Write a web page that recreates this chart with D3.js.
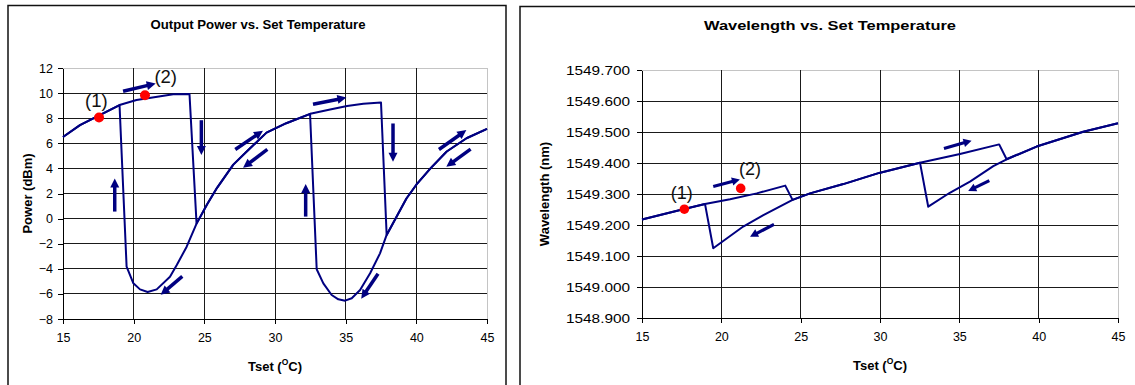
<!DOCTYPE html>
<html>
<head>
<meta charset="utf-8">
<script src="https://cdn.jsdelivr.net/npm/d3@7"></script>
<style>
  html, body { margin: 0; padding: 0; background: #fff; }
  svg { display: block; font-family: "Liberation Sans", Arial, sans-serif; }
</style>
</head>
<body>
<svg id="chart" width="1135" height="385"></svg>
<script>
// ---------- data ----------
const tempTicks = [15, 20, 25, 30, 35, 40, 45];
const powerTicks = [-8, -6, -4, -2, 0, 2, 4, 6, 8, 10, 12];
const wavelengthTicks = [1548.9, 1549.0, 1549.1, 1549.2, 1549.3, 1549.4, 1549.5, 1549.6, 1549.7];

// Output power, temperature swept upward (°C, dBm)
const powerHeatTemp  = [15, 16.2, 17.6, 19.0, 20.2, 21.9, 22.8, 23.95, 24.45, 25.2, 25.9, 27.05, 28.0, 29.4, 30.8, 32.5, 33.9, 35.1, 36.25, 37.5, 37.9, 38.6, 39.3, 40.0, 41.0, 42.15, 43.55, 45];
const powerHeatValue = [6.5, 7.45, 8.25, 9.05, 9.45, 9.75, 9.9, 9.93, -0.4, 1.15, 2.45, 4.3, 5.35, 6.85, 7.6, 8.35, 8.7, 8.97, 9.15, 9.25, -1.3, 0.15, 1.6, 2.7, 4.0, 5.35, 6.4, 7.15];

// Output power, temperature swept downward
const powerCoolTemp  = [45, 43.55, 42.15, 41.0, 40.0, 39.3, 38.6, 37.9, 37.43, 36.73, 36.02, 35.43, 34.96, 34.48, 34.01, 33.42, 32.95, 32.48, 30.8, 29.4, 28.0, 27.05, 25.9, 25.2, 24.45, 23.75, 23.05, 22.57, 21.63, 20.99, 20.45, 19.98, 19.5, 19.0, 17.6, 16.2, 15];
const powerCoolValue = [7.15, 6.4, 5.35, 4.0, 2.7, 1.6, 0.15, -1.3, -2.77, -4.36, -5.69, -6.35, -6.54, -6.43, -6.09, -5.16, -4.04, 8.35, 7.6, 6.85, 5.35, 4.3, 2.45, 1.15, -0.4, -2.24, -3.7, -4.63, -5.64, -5.85, -5.64, -5.16, -3.83, 9.05, 8.25, 7.45, 6.5];

// Wavelength, temperature swept upward (°C, nm)
const waveHeatTemp  = [15, 17.6, 18.97, 20.55, 22.23, 24.03, 24.49, 25.59, 27.69, 29.95, 32.52, 35.04, 37.51, 37.98, 39.87, 42.81, 45];
const waveHeatValue = [1549.218, 1549.251, 1549.268, 1549.283, 1549.302, 1549.327, 1549.281, 1549.302, 1549.332, 1549.368, 1549.401, 1549.429, 1549.460, 1549.412, 1549.453, 1549.501, 1549.528];

// Wavelength, temperature swept downward
const waveCoolTemp  = [45, 42.81, 39.87, 37.98, 37.14, 35.67, 34.4, 33.04, 32.52, 29.95, 27.69, 25.59, 24.49, 22.65, 21.38, 19.49, 18.97, 17.6, 15];
const waveCoolValue = [1549.528, 1549.501, 1549.453, 1549.412, 1549.390, 1549.340, 1549.304, 1549.259, 1549.401, 1549.368, 1549.332, 1549.302, 1549.281, 1549.232, 1549.195, 1549.125, 1549.268, 1549.251, 1549.218];

// Sweep-direction arrows: [fromTemp, fromValue, toTemp, toValue]
const powerArrows = [
  [19.25, 10.15, 21.56, 10.76],
  [18.66, 0.56, 18.66, 3.2],
  [24.79, 7.84, 24.79, 5.06],
  [27.19, 5.51, 29.15, 7.0],
  [29.46, 5.51, 27.74, 4.05],
  [23.44, -4.61, 21.91, -6.07],
  [32.69, 9.11, 35.05, 9.64],
  [32.17, 0.16, 32.17, 2.76],
  [38.35, 7.58, 38.35, 4.53],
  [37.29, -4.4, 36.1, -6.38],
  [41.6, 5.51, 43.54, 7.05],
  [43.84, 5.54, 42.12, 4.13]
];
const waveArrows = [
  [19.49, 1549.324, 21.17, 1549.347],
  [23.32, 1549.202, 21.81, 1549.162],
  [34.03, 1549.447, 35.77, 1549.472],
  [36.89, 1549.343, 35.56, 1549.310]
];

// Operating points (1) and (2)
const pointLabels = ["(1)", "(2)"];
const powerPointTemp = [17.55, 20.8];
const powerPointValue = [8.05, 9.83];
const powerLabelTemp = [17.36, 22.27];
const powerLabelValue = [9.4, 11.36];
const wavePointTemp = [17.67, 21.22];
const wavePointValue = [1549.251, 1549.318];
const waveLabelTemp = [17.5, 21.8];
const waveLabelValue = [1549.304, 1549.380];

// ---------- drawing ----------
const svg = d3.select("#chart");
const NAVY = "#000080";

function drawArrow(g, x0, y0, x1, y1, st) {
  const dx = x1 - x0, dy = y1 - y0, len = Math.hypot(dx, dy);
  const ux = dx / len, uy = dy / len;
  const bx = x1 - ux * st.head, by = y1 - uy * st.head;
  g.append("line")
    .attr("x1", x0).attr("y1", y0)
    .attr("x2", bx + ux).attr("y2", by + uy)
    .attr("stroke", NAVY).attr("stroke-width", st.shaft);
  g.append("path")
    .attr("d", `M${x1},${y1}L${bx - uy * st.half},${by + ux * st.half}L${bx + uy * st.half},${by - ux * st.half}Z`)
    .attr("fill", NAVY);
}

function drawPanel(p) {
  const g = svg.append("g");

  // chart frame
  g.append("rect")
    .attr("x", p.frame.x).attr("y", p.frame.y)
    .attr("width", p.frame.w).attr("height", p.frame.h)
    .attr("fill", "#fff").attr("stroke", "#111").attr("stroke-width", 1.5);

  const x = d3.scaleLinear().domain([15, 45]).range([p.plot.left, p.plot.right]);
  const y = d3.scaleLinear().domain(d3.extent(p.yTicks)).range([p.plot.bottom, p.plot.top]);

  // plot area outline
  g.append("rect")
    .attr("x", p.plot.left + 0.5).attr("y", p.plot.top + 0.5)
    .attr("width", p.plot.right - p.plot.left).attr("height", p.plot.bottom - p.plot.top)
    .attr("fill", "none").attr("stroke", "#c4c4c4").attr("stroke-width", 1);

  // gridlines
  const grid = g.append("g").attr("stroke", "#1a1a1a").attr("stroke-width", 1).attr("shape-rendering", "crispEdges");
  grid.selectAll("line.h").data(p.yTicks.slice(1, -1)).join("line")
    .attr("class", "h")
    .attr("x1", p.plot.left).attr("x2", p.plot.right)
    .attr("y1", d => y(d)).attr("y2", d => y(d));
  grid.selectAll("line.v").data(tempTicks.slice(1, -1)).join("line")
    .attr("class", "v")
    .attr("y1", p.plot.top).attr("y2", p.plot.bottom)
    .attr("x1", d => x(d)).attr("x2", d => x(d));

  // axes
  const yAxis = d3.axisLeft(y).tickValues(p.yTicks).tickSize(5).tickSizeOuter(0)
    .tickPadding(p.yPad).tickFormat(p.yFormat);
  const ya = g.append("g").attr("transform", `translate(${p.plot.left},0)`).call(yAxis);
  const xAxis = d3.axisBottom(x).tickValues(tempTicks).tickSize(5).tickSizeOuter(0)
    .tickPadding(p.xPad).tickFormat(d3.format("d"));
  const xa = g.append("g").attr("transform", `translate(0,${p.plot.bottom})`).call(xAxis);
  [ya, xa].forEach(a => {
    a.attr("shape-rendering", "crispEdges");
    a.select(".domain").attr("stroke", "#000");
    a.selectAll(".tick line").attr("stroke", "#000");
    a.selectAll(".tick text").attr("fill", "#000")
      .attr("font-family", "'Liberation Sans', Arial, sans-serif");
  });
  ya.selectAll(".tick text").attr("font-size", p.yTickSize);
  if (p.yTickLength) ya.selectAll(".tick text").attr("textLength", p.yTickLength).attr("lengthAdjust", "spacingAndGlyphs");
  xa.selectAll(".tick text").attr("font-size", p.xTickSize);

  // series lines
  const line = d3.line().x(d => x(d[0])).y(d => y(d[1]));
  p.series.forEach(s => {
    g.append("path")
      .datum(d3.zip(s[0], s[1]))
      .attr("d", line)
      .attr("fill", "none").attr("stroke", NAVY)
      .attr("stroke-width", 2).attr("stroke-linejoin", "round");
  });

  // direction arrows
  p.arrows.forEach(a => drawArrow(g, x(a[0]), y(a[1]), x(a[2]), y(a[3]), p.arrowStyle));

  // operating points
  g.selectAll("circle.pt").data(d3.zip(p.pointTemp, p.pointValue)).join("circle")
    .attr("class", "pt")
    .attr("cx", d => x(d[0])).attr("cy", d => y(d[1]))
    .attr("r", p.dotR).attr("fill", "#ff0000");
  g.selectAll("text.pl").data(d3.zip(pointLabels, p.labelTemp, p.labelValue)).join("text")
    .attr("class", "pl")
    .attr("x", d => x(d[1])).attr("y", d => y(d[2]))
    .attr("text-anchor", "middle").attr("dominant-baseline", "central")
    .attr("font-size", p.noteSize).attr("fill", "#111")
    .text(d => d[0]);

  // titles
  g.append("text")
    .attr("x", p.titleX).attr("y", p.titleY)
    .attr("text-anchor", "middle").attr("font-weight", "bold")
    .attr("font-size", p.titleSize).attr("fill", "#000")
    .attr("textLength", p.titleLength).attr("lengthAdjust", "spacingAndGlyphs")
    .text(p.title);

  const xl = g.append("text")
    .attr("x", (p.plot.left + p.plot.right) / 2).attr("y", p.xLabelY)
    .attr("text-anchor", "middle").attr("font-weight", "bold")
    .attr("font-size", 13).attr("fill", "#000");
  xl.append("tspan").text("Tset (");
  xl.append("tspan").attr("font-size", 8.5).attr("dy", -6).text("O");
  xl.append("tspan").attr("dy", 6).text("C)");

  g.append("text")
    .attr("transform", `translate(${p.yLabelX},${(p.plot.top + p.plot.bottom) / 2}) rotate(-90)`)
    .attr("text-anchor", "middle").attr("font-weight", "bold")
    .attr("font-size", 13).attr("fill", "#000")
    .text(p.yLabel);
}

drawPanel({
  frame: { x: 8, y: 5.5, w: 498, h: 400 },
  plot: { left: 63, right: 487, top: 68, bottom: 319 },
  yTicks: powerTicks, yFormat: d3.format("d"), yPad: 5, yTickSize: 12.5, xTickSize: 12.5, xPad: 9,
  series: [[powerHeatTemp, powerHeatValue], [powerCoolTemp, powerCoolValue]],
  arrows: powerArrows,
  arrowStyle: { shaft: 3.5, head: 9, half: 4.5 },
  pointTemp: powerPointTemp, pointValue: powerPointValue,
  labelTemp: powerLabelTemp, labelValue: powerLabelValue, dotR: 5, noteSize: 18.5,
  title: "Output Power vs. Set Temperature", titleX: 258, titleY: 28.5, titleSize: 13, titleLength: 215,
  xLabelY: 371, yLabel: "Power (dBm)", yLabelX: 31.5
});

drawPanel({
  frame: { x: 520, y: 6.5, w: 700, h: 400 },
  plot: { left: 642, right: 1118, top: 70, bottom: 318 },
  yTicks: wavelengthTicks, yFormat: d3.format(".3f"), yPad: 7, yTickSize: 13.5, yTickLength: 64, xTickSize: 12.5, xPad: 9,
  series: [[waveHeatTemp, waveHeatValue], [waveCoolTemp, waveCoolValue]],
  arrows: waveArrows,
  arrowStyle: { shaft: 3.2, head: 8, half: 4.2 },
  pointTemp: wavePointTemp, pointValue: wavePointValue,
  labelTemp: waveLabelTemp, labelValue: waveLabelValue, dotR: 4.8, noteSize: 18,
  title: "Wavelength vs. Set Temperature", titleX: 830, titleY: 30, titleSize: 13.5, titleLength: 252,
  xLabelY: 370, yLabel: "Wavelength (nm)", yLabelX: 549
});
</script>
</body>
</html>
